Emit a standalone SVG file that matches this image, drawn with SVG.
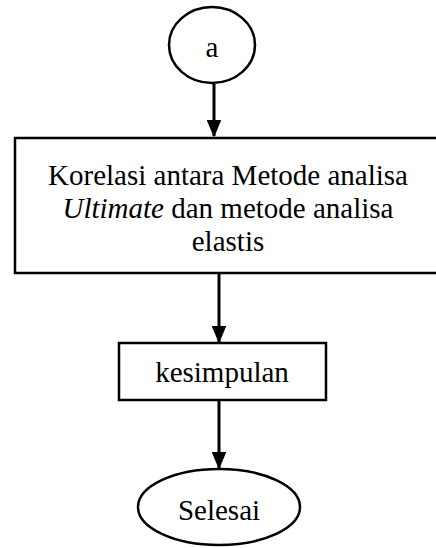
<svg xmlns="http://www.w3.org/2000/svg" width="436" height="548" viewBox="0 0 436 548">
<defs>
<style>
.s{fill:#fff;stroke:#000;stroke-width:2.5}
.t{font-family:"Liberation Serif","Times New Roman",serif;font-size:29px;fill:#000;text-anchor:middle}
.c{stroke:#000;stroke-width:3;fill:none}
</style>
<marker id="ah" markerWidth="6" markerHeight="5" refX="5.5" refY="2.5" orient="auto" markerUnits="strokeWidth">
<path d="M0,0 L6,2.5 L0,5 Z" fill="#000"/>
</marker>
</defs>
<rect width="436" height="548" fill="#fff"/>
<g id="connectors">
<line class="c" x1="214" y1="84" x2="214" y2="136" marker-end="url(#ah)"/>
<line class="c" x1="219" y1="274" x2="219" y2="342" marker-end="url(#ah)"/>
<line class="c" x1="219" y1="401" x2="219" y2="468" marker-end="url(#ah)"/>
</g>
<g id="node-a">
<ellipse class="s" cx="212" cy="45" rx="43" ry="38"/>
<text class="t" x="212" y="57">a</text>
</g>
<g id="node-korelasi">
<rect class="s" x="15" y="138" width="424" height="135"/>
<text class="t" x="228" y="185">Korelasi antara Metode analisa</text>
<text class="t" x="228" y="218"><tspan font-style="italic">Ultimate</tspan> dan metode analisa</text>
<text class="t" x="228" y="251">elastis</text>
</g>
<g id="node-kesimpulan">
<rect class="s" x="119" y="343" width="207" height="57"/>
<text class="t" x="222" y="382">kesimpulan</text>
</g>
<g id="node-selesai">
<ellipse class="s" cx="219" cy="507" rx="81" ry="38"/>
<text class="t" x="219" y="520">Selesai</text>
</g>
</svg>
